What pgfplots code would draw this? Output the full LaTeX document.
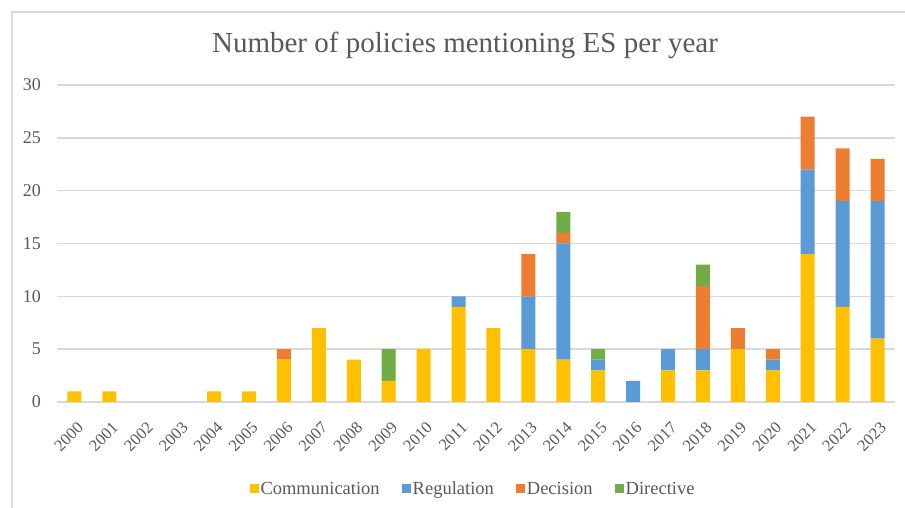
\documentclass[border=0pt]{standalone}
\usepackage{fontspec}
\setmainfont{Liberation Serif}
\usepackage{pgfplots}
\pgfplotsset{compat=1.18}
\usepackage{pgfplotstable}
\definecolor{comm}{HTML}{FFC000}
\definecolor{regu}{HTML}{5B9BD5}
\definecolor{deci}{HTML}{ED7D31}
\definecolor{dire}{HTML}{70AD47}
\definecolor{txt}{HTML}{595959}
\definecolor{grd}{HTML}{D9D9D9}
\pgfplotstableread{
x comm regu deci dire
0 1 0 0 0
1 1 0 0 0
2 0 0 0 0
3 0 0 0 0
4 1 0 0 0
5 1 0 0 0
6 4 0 1 0
7 7 0 0 0
8 4 0 0 0
9 2 0 0 3
10 5 0 0 0
11 9 1 0 0
12 7 0 0 0
13 5 5 4 0
14 4 11 1 2
15 3 1 0 1
16 0 2 0 0
17 3 2 0 0
18 3 2 6 2
19 5 0 2 0
20 3 1 1 0
21 14 8 5 0
22 9 10 5 0
23 6 13 4 0
}\data
\begin{document}
\begin{tikzpicture}[x=1bp,y=1bp]
\useasboundingbox (0,0) rectangle (905,508);
\draw[grd, line width=1.5bp] (12,0) -- (12,496) -- (905,496);
\node[txt, font=\fontsize{29bp}{34bp}\selectfont] at (465,463) {Number of policies mentioning ES per year};
\begin{axis}[
  at={(57bp,106bp)}, anchor=south west,
  scale only axis, width=838bp, height=317bp,
  xmin=-0.5, xmax=23.5, ymin=0, ymax=30,
  ybar stacked, bar width=14bp,
  axis line style={draw=none},
  tick style={draw=none},
  ymajorgrids, grid style={grd, line width=1.5bp},
  ytick={0,5,...,30},
  xtick={0,...,23},
  xticklabels={2000,2001,2002,2003,2004,2005,2006,2007,2008,2009,2010,2011,2012,2013,2014,2015,2016,2017,2018,2019,2020,2021,2022,2023},
  major tick length=0pt,
  tick label style={txt, font=\fontsize{18bp}{21bp}\selectfont},
  /pgf/number format/assume math mode=true,
  yticklabel style={anchor=east, inner sep=0pt, xshift=-16bp},
  xticklabel style={font=\fontsize{16.5bp}{19bp}\selectfont, inner sep=0pt, xshift=6bp, yshift=-23bp, rotate=45, anchor=east},
  legend columns=4,
  legend style={at={(416bp,-87bp)}, anchor=center, draw=none, fill=none,
    font=\fontsize{18.5bp}{21bp}\selectfont, text=txt,
    /tikz/every even column/.append style={column sep=20bp},
    /tikz/every odd column/.append style={column sep=0bp},
    inner sep=0pt, nodes={inner sep=2bp}},
  legend image code/.code={\fill[#1,draw=none] (0bp,-4.5bp) rectangle (9bp,4.5bp);},
]
\addplot[fill=comm, draw=none] table[x=x, y=comm] {\data};
\addplot[fill=regu, draw=none] table[x=x, y=regu] {\data};
\addplot[fill=deci, draw=none] table[x=x, y=deci] {\data};
\addplot[fill=dire, draw=none] table[x=x, y=dire] {\data};
\legend{Communication, Regulation, Decision, Directive}
\end{axis}
\end{tikzpicture}
\end{document}
